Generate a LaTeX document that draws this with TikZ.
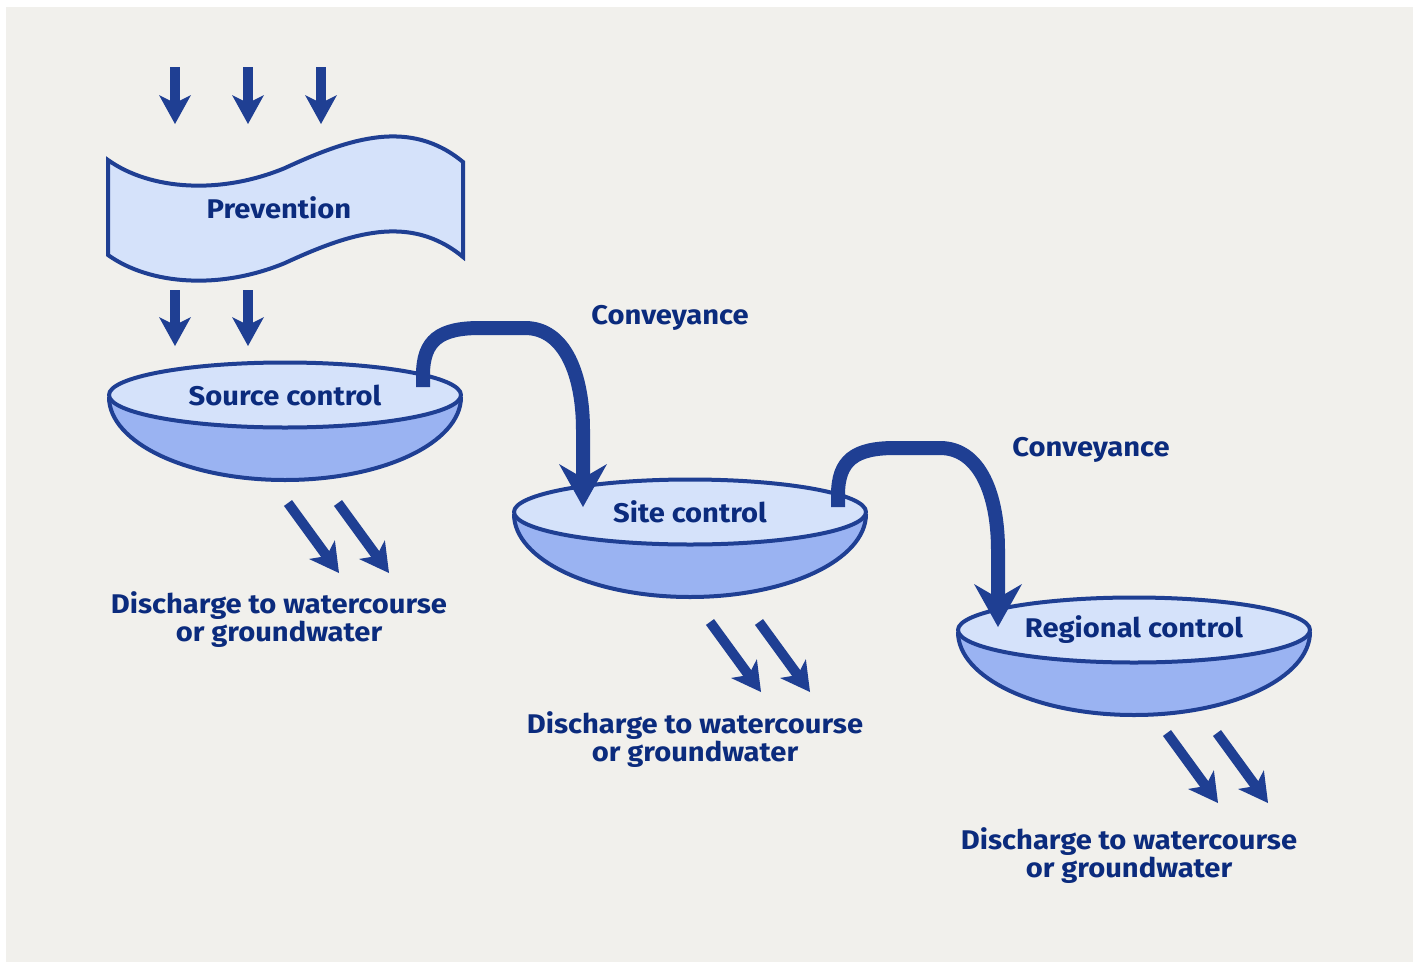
\documentclass[tikz,border=0pt]{standalone}
\usepackage{fontspec}
\setmainfont{Fira Sans}[FakeStretch=1.08]
\usetikzlibrary{arrows.meta,shapes.geometric}
\definecolor{paper}{HTML}{F1F0EC}
\definecolor{navy}{HTML}{1F3F93}
\definecolor{ink}{HTML}{0B2B7D}
\definecolor{pale}{HTML}{D5E2FA}
\definecolor{deep}{HTML}{9AB3F2}

\begin{document}
\begin{tikzpicture}[x=1pt,y=-1pt,line join=round,
	txt/.style={text=ink,font=\bfseries\fontsize{27}{28}\selectfont,inner sep=0pt},
	drop/.style={navy,line width=10pt,-{Stealth[length=29pt,width=32pt,inset=8pt,line width=0pt]}},
	pipe/.style={navy,line width=14pt,-{Stealth[length=43pt,width=48pt,inset=14pt,line width=0pt]}},
	rim/.style={ellipse,draw=navy,fill=pale,line width=4pt,minimum width=352pt,minimum height=65pt,txt}]
	\useasboundingbox (0,0) rectangle (1416,964);
	\fill [paper] (6,7) rectangle (1413,962);
	% banner
	\filldraw [fill=pale,draw=navy,line width=4pt,line join=miter]
	(108,160) .. controls (150,190) and (220,195) .. (285,168)
	.. controls (350,138) and (410,118) .. (463,162) -- (463,257)
	.. controls (410,213) and (350,233) .. (285,263)
	.. controls (220,290) and (150,285) .. (108,255) -- cycle;
	\node [txt,anchor=base] (prev) at (279,218) {Prevention};
	\foreach \x in {175,248,321}
		\draw [drop] (\x,67) -- (\x,124);
	\foreach \x in {175,248}
		\draw [drop] (\x,290) -- (\x,346);
	% bowls
	\foreach \n/\c/\t in {src/{285,395}/Source control,site/{690,512}/Site control,reg/{1134,630}/Regional control}{
		\filldraw [fill=deep,draw=navy,line width=4pt] (\c) ++(-176,2) arc[start angle=180,end angle=0,x radius=176,y radius=83];
		\node [rim] (\n) at (\c) {\t};
	}
	\foreach \x/\y in {288/503,338/503,710/622,759/622,1167/733,1217/733}
		\draw [drop] (\x,\y) -- ++(51,70);
	\foreach \n/\x/\y in {dsrc/279/591,dsite/695/711,dreg/1129/827}
		\node [txt,align=center,anchor=north] (\n) at (\x,\y) {Discharge to watercourse\\or groundwater};
	% conveyance
	\draw [pipe] ([shift={(138,-8)}]src.center) -- ++(0,-12) .. controls +(0,-35) and +(-40,0) .. ++(57,-47)
		-- ++(45,0) .. controls +(40,0) and +(0,-55) .. ++(58,102) -- ([shift={(-107,-5)}]site.center);
	\draw [pipe] ([shift={(148,-5)}]site.center) -- ++(0,-12) .. controls +(0,-35) and +(-40,0) .. ++(57,-47)
		-- ++(45,0) .. controls +(40,0) and +(0,-55) .. ++(58,102) -- ([shift={(-136,-3)}]reg.center);
	\node [txt,anchor=base] (conv1) at (670,324) {Conveyance};
	\node [txt,anchor=base] (conv2) at (1091,456) {Conveyance};
\end{tikzpicture}
\end{document}
